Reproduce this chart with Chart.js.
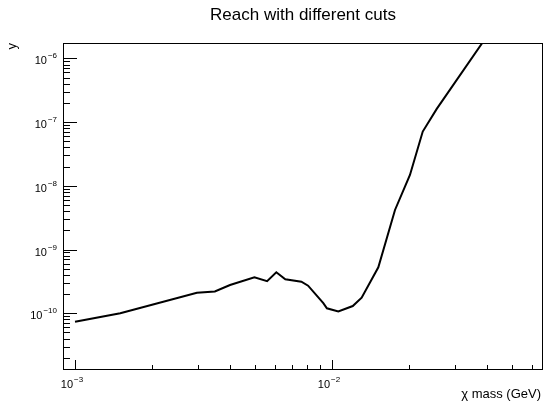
<!DOCTYPE html>
<html>
<head>
<meta charset="utf-8">
<title>Reach with different cuts</title>
<script src="https://cdn.jsdelivr.net/npm/chart.js@4/dist/chart.umd.min.js"></script>
<style>
    body { margin: 0; background: #fff; }
    #myChart { display: block; }
</style>
</head>
<body>
<canvas id="myChart" width="544" height="402"></canvas>
<script>
// dati
var massa = [0.001, 0.0015, 0.00298, 0.0035, 0.00401, 0.00499, 0.00559, 0.00607, 0.00658, 0.0076, 0.00807,
    0.00925, 0.00955, 0.01058, 0.01204, 0.01304, 0.01514, 0.01758, 0.0201, 0.02254, 0.02555, 0.0383, 0.045];
var reach = [7.4e-11, 1.0e-10, 2.1e-10, 2.2e-10, 2.78e-10, 3.67e-10, 3.2e-10, 4.4e-10, 3.42e-10, 3.13e-10, 2.71e-10,
    1.44e-10, 1.2e-10, 1.07e-10, 1.30e-10, 1.76e-10, 5.27e-10, 4.18e-9, 1.48e-8, 7.1e-8, 1.61e-7, 1.71e-6, 4.5e-6];
var xLimiti = [0.000898, 0.0662];
var yLimiti = [1.29e-11, 1.74e-6];
var xDecadi = [-3, -2];
var yDecadi = [-10, -9, -8, -7, -6];

var titolo = 'Reach with different cuts';
var titoloX = '\u03c7 mass (GeV)';
var titoloY = 'y';

var FONT = '"Liberation Sans", Arial, sans-serif';

function punti(xs, ys) {
    var out = [];
    for (var i = 0; i < xs.length; i++) {
        out.push({ x: xs[i], y: ys[i] });
    }
    return out;
}

// scrive 10^exp come testo con esponente
function potenza(ctx, exp, x, y, allinea) {
    var base = '10';
    var esp = '\u2212' + Math.abs(exp);
    ctx.font = '11px ' + FONT;
    var wb = ctx.measureText(base).width;
    ctx.font = '8px ' + FONT;
    var we = ctx.measureText(esp).width + 1;
    var x0 = x;
    if (allinea === 'right') x0 = x - wb - we;
    if (allinea === 'center') x0 = x - (wb + we) / 2;
    ctx.textAlign = 'left';
    ctx.textBaseline = 'alphabetic';
    ctx.font = '11px ' + FONT;
    ctx.fillText(base, x0, y);
    ctx.font = '8px ' + FONT;
    ctx.fillText(esp, x0 + wb + 1, y - 6);
}

var assiRoot = {
    id: 'assiRoot',
    afterDraw: function (chart) {
        var ctx = chart.ctx;
        var a = chart.chartArea;
        var sx = chart.scales.x;
        var sy = chart.scales.y;
        ctx.save();
        ctx.strokeStyle = '#000';
        ctx.fillStyle = '#000';
        ctx.lineWidth = 1;
        ctx.strokeRect(a.left + 0.5, a.top + 0.5, a.right - a.left - 1, a.bottom - a.top - 1);

        // tacche asse x
        ctx.beginPath();
        for (var d = -4; d <= -1; d++) {
            for (var k = 1; k <= 9; k++) {
                var v = k * Math.pow(10, d);
                if (v < xLimiti[0] || v > xLimiti[1]) continue;
                var px = Math.round(sx.getPixelForValue(v)) + 0.5;
                var len = (k === 1) ? 10 : 5;
                ctx.moveTo(px, a.bottom);
                ctx.lineTo(px, a.bottom - len);
            }
        }
        // tacche asse y
        for (var e = -12; e <= -5; e++) {
            for (var j = 1; j <= 9; j++) {
                var w = j * Math.pow(10, e);
                if (w < yLimiti[0] || w > yLimiti[1]) continue;
                var py = Math.round(sy.getPixelForValue(w)) + 0.5;
                var l = (j === 1) ? 14 : 7;
                ctx.moveTo(a.left, py);
                ctx.lineTo(a.left + l, py);
            }
        }
        ctx.stroke();

        // etichette
        xDecadi.forEach(function (dd) {
            potenza(ctx, dd, sx.getPixelForValue(Math.pow(10, dd)) - 3, a.bottom + 18, 'center');
        });
        yDecadi.forEach(function (dd) {
            potenza(ctx, dd, a.left - 6, sy.getPixelForValue(Math.pow(10, dd)) + 6, 'right');
        });

        // titoli
        ctx.font = '17px ' + FONT;
        ctx.textAlign = 'center';
        ctx.textBaseline = 'alphabetic';
        ctx.fillText(titolo, (a.left + a.right) / 2, 20);

        ctx.font = '13px ' + FONT;
        ctx.textAlign = 'right';
        ctx.fillText(titoloX, a.right - 2, 398);

        ctx.translate(16, a.top);
        ctx.rotate(-Math.PI / 2);
        ctx.textAlign = 'right';
        ctx.fillText(titoloY, 0, 0);
        ctx.restore();
    }
};

var grafico = new Chart(document.getElementById('myChart'), {
    type: 'line',
    data: {
        datasets: [{
            label: 'reach',
            data: punti(massa, reach),
            borderColor: '#000',
            borderWidth: 2,
            pointRadius: 0,
            tension: 0,
            fill: false,
            clip: 0
        }]
    },
    options: {
        responsive: false,
        animation: false,
        events: [],
        layout: { padding: { left: 63, top: 43, right: 1, bottom: 32 } },
        plugins: {
            legend: { display: false },
            title: { display: false },
            tooltip: { enabled: false }
        },
        scales: {
            x: { type: 'logarithmic', min: xLimiti[0], max: xLimiti[1], display: false },
            y: { type: 'logarithmic', min: yLimiti[0], max: yLimiti[1], display: false }
        }
    },
    plugins: [assiRoot]
});
</script>
</body>
</html>
